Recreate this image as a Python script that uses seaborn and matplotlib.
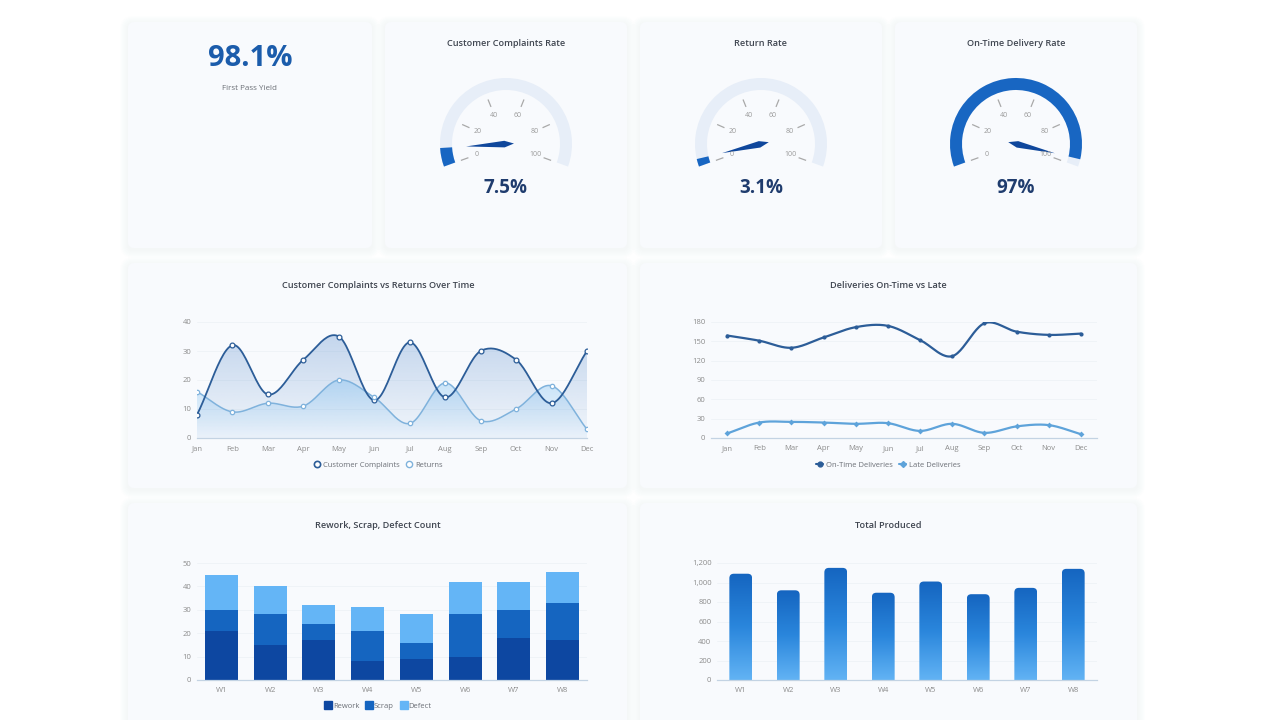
import numpy as np
import seaborn as sns
import matplotlib.pyplot as plt
from matplotlib.patches import FancyBboxPatch, Wedge, Polygon
from matplotlib.lines import Line2D
from matplotlib.colors import LinearSegmentedColormap, to_rgb
from matplotlib.ticker import FuncFormatter

sns.set_theme(style="white")
plt.rcParams['font.family'] = ['Open Sans', 'DejaVu Sans']

# ---- data ----
months = ["Jan", "Feb", "Mar", "Apr", "May", "Jun", "Jul", "Aug", "Sep", "Oct", "Nov", "Dec"]
complaints = [8, 32, 15, 27, 35, 13, 33, 14, 30, 27, 12, 30]
returns = [16, 9, 12, 11, 20, 14, 5, 19, 6, 10, 18, 3]
on_time = [159, 151, 140, 156, 172, 174, 152, 127, 178, 165, 160, 162]
late = [7, 24, 25, 24, 22, 23, 11, 22, 8, 18, 20, 6]

weeks = ["W1", "W2", "W3", "W4", "W5", "W6", "W7", "W8"]
rework = [21, 15, 17, 8, 9, 10, 18, 17]
scrap = [9, 13, 7, 13, 7, 18, 12, 16]
defect = [15, 12, 8, 10, 12, 14, 12, 13]
total_produced = [1090, 920, 1150, 895, 1010, 880, 945, 1140]

first_pass_yield = "98.1%"
gauge_titles = ["Customer Complaints Rate", "Return Rate", "On-Time Delivery Rate"]
gauge_values = [7.5, 3.1, 97]
gauge_labels = ["7.5%", "3.1%", "97%"]

# ---- colours ----
DARK = "#2c5d98"
LIGHT = "#7fb2dc"
REWORK_C = "#0d47a1"
SCRAP_C = "#1565c0"
DEFECT_C = "#64b5f6"
TICK_C = "#8c8c8c"
AXIS_C = "#c3d3e3"
TITLE_C = "#3f4550"

W, H = 1280, 720
fig = plt.figure(figsize=(12.8, 7.2), dpi=100, facecolor="white")


def px_rect(x0, y0, x1, y1):
    return [x0 / W, 1 - y1 / H, (x1 - x0) / W, (y1 - y0) / H]


# background layer in pixel units
bg = fig.add_axes([0, 0, 1, 1], zorder=-5)
bg.set_xlim(0, W)
bg.set_ylim(H, 0)
bg.axis("off")

cards = [(128, 22, 372, 248), (385, 22, 627, 248), (640, 22, 882, 248), (895, 22, 1137, 248),
         (128, 263, 627, 488), (640, 263, 1137, 488),
         (128, 503, 627, 735), (640, 503, 1137, 735)]
for x0, y0, x1, y1 in cards:
    for k in range(8, 0, -1):
        bg.add_patch(FancyBboxPatch((x0 - k, y0 - k + 2), x1 - x0 + 2 * k, y1 - y0 + 2 * k,
                                    boxstyle=f"round,pad=0,rounding_size={6 + k}",
                                    fc="#dde5ef", ec="none", alpha=0.035))
    bg.add_patch(FancyBboxPatch((x0, y0), x1 - x0, y1 - y0,
                                boxstyle="round,pad=0,rounding_size=6",
                                fc="#f8fafd", ec="none"))

# KPI card
bg.text(250, 59, first_pass_yield, ha="center", va="center", fontsize=21,
        fontweight="bold", color="#1b5cab")
bg.text(250, 89, "First Pass Yield", ha="center", va="center", fontsize=5.8, color="#6b6f76")


def draw_gauge(cx, value, title, label):
    ax = fig.add_axes(px_rect(cx - 110, 30, cx + 110, 214))
    ax.set_xlim(-110, 110)
    ax.set_ylim(144 - 214, 144 - 30)
    ax.axis("off")
    start, end = 200, -20
    R, wd = 66, 12
    ax.add_patch(Wedge((0, 0), R, end, start, width=wd, fc="#e7eef8", ec="none"))
    ang = start - (start - end) * value / 100
    ax.add_patch(Wedge((0, 0), R, ang, start, width=wd, fc="#1866c2", ec="none"))
    for v in range(0, 101, 20):
        a = np.radians(start - (start - end) * v / 100)
        ax.plot([40 * np.cos(a), 48 * np.cos(a)], [40 * np.sin(a), 48 * np.sin(a)],
                color="#a9a9a9", lw=0.9, solid_capstyle="butt")
        ax.text(31 * np.cos(a), 31 * np.sin(a), str(v), ha="center", va="center",
                fontsize=5, color="#9a9a9a")
    a = np.radians(ang)
    d = np.array([np.cos(a), np.sin(a)])
    n = np.array([-np.sin(a), np.cos(a)])
    pts = [40 * d, 3.3 * n + 1.5 * d, -8 * d, -3.3 * n + 1.5 * d]
    ax.add_patch(Polygon(pts, closed=True, fc="#0f479c", ec="none"))
    bg.text(cx, 44, title, ha="center", va="center", fontsize=6.6,
            fontweight="semibold", color=TITLE_C)
    bg.text(cx, 188, label, ha="center", va="center", fontsize=13.5,
            fontweight="bold", color="#1f3c6e")


for cx, v, t, lab in zip([506, 761, 1016], gauge_values, gauge_titles, gauge_labels):
    draw_gauge(cx, v, t, lab)


def smooth_curve(xv, yv, n=24):
    x = np.asarray(xv, float)
    y = np.asarray(yv, float)
    px = np.concatenate([[2 * x[0] - x[1]], x, [2 * x[-1] - x[-2]]])
    py = np.concatenate([[2 * y[0] - y[1]], y, [2 * y[-1] - y[-2]]])
    t = np.linspace(0, 1, n, endpoint=False)
    xs, ys = [], []
    for i in range(1, len(px) - 2):
        for arr, out in ((px, xs), (py, ys)):
            p0, p1, p2, p3 = arr[i - 1:i + 3]
            out.append(0.5 * (2 * p1 + (-p0 + p2) * t + (2 * p0 - 5 * p1 + 4 * p2 - p3) * t ** 2
                              + (-p0 + 3 * p1 - 3 * p2 + p3) * t ** 3))
    xs.append([x[-1]])
    ys.append([y[-1]])
    return np.concatenate(xs), np.concatenate(ys)


def gradient_fill(ax, xs, ys, color, a_top, a_bot, z):
    poly = ax.fill_between(xs, ys, 0, facecolor="none", edgecolor="none")
    grad = np.zeros((256, 1, 4))
    grad[..., :3] = to_rgb(color)
    grad[:, 0, 3] = np.linspace(a_bot, a_top, 256)
    img = ax.imshow(grad, extent=[xs.min(), xs.max(), 0, ys.max()], origin="lower",
                    aspect="auto", zorder=z)
    img.set_clip_path(poly.get_paths()[0], ax.transData)


def style_axis(ax):
    ax.patch.set_alpha(0)
    for s in ["top", "right", "left"]:
        ax.spines[s].set_visible(False)
    ax.spines["bottom"].set_color(AXIS_C)
    ax.spines["bottom"].set_linewidth(0.9)
    ax.tick_params(axis="y", length=0, labelsize=5.5, labelcolor=TICK_C, pad=4)
    ax.tick_params(axis="x", labelsize=5.5, labelcolor=TICK_C, color=AXIS_C, pad=3)
    ax.yaxis.grid(True, color="#eef2f6", lw=0.6)
    ax.set_axisbelow(True)
    ax.set_xlabel("")
    ax.set_ylabel("")


# ---- chart 1: complaints vs returns ----
ax1 = fig.add_axes(px_rect(197, 322, 587, 438))
idx = np.arange(len(months))
cx_, cy_ = smooth_curve(idx, complaints)
rx_, ry_ = smooth_curve(idx, returns)
gradient_fill(ax1, cx_, cy_, "#4a82c8", 0.30, 0.04, 1)
gradient_fill(ax1, rx_, ry_, "#6fb8f0", 0.36, 0.05, 2)
ax1.plot(cx_, cy_, color=DARK, lw=1.3, zorder=4)
ax1.plot(rx_, ry_, color=LIGHT, lw=1.1, zorder=3)
sns.scatterplot(x=idx, y=complaints, ax=ax1, s=12, facecolor="white", edgecolor=DARK,
                linewidth=0.9, zorder=5)
sns.scatterplot(x=idx, y=returns, ax=ax1, s=10, facecolor="white", edgecolor=LIGHT,
                linewidth=0.9, zorder=5)
ax1.set_xlim(0, 11)
ax1.set_ylim(0, 40)
ax1.set_yticks(range(0, 41, 10))
ax1.set_xticks(idx, months)
style_axis(ax1)
ax1.tick_params(axis="x", length=2.5, width=0.7)
bg.text(378, 285, "Customer Complaints vs Returns Over Time", ha="center", va="center",
        fontsize=6.6, fontweight="semibold", color=TITLE_C)
fig.legend(handles=[Line2D([], [], ls="none", marker="o", ms=4.5, mfc="white", mec=DARK, mew=1.2),
                    Line2D([], [], ls="none", marker="o", ms=4.5, mfc="white", mec=LIGHT, mew=1.0)],
           labels=["Customer Complaints", "Returns"], loc="center",
           bbox_to_anchor=(378 / W, 1 - 465 / H), ncol=2, frameon=False, fontsize=5.5,
           labelcolor="#6b6f76", handletextpad=0.2, columnspacing=0.8, handlelength=1.0)

# ---- chart 2: deliveries ----
ax2 = fig.add_axes(px_rect(711, 322, 1097, 438))
ox_, oy_ = smooth_curve(idx, on_time)
lx_, ly_ = smooth_curve(idx, late)
ax2.plot(ox_, oy_, color=DARK, lw=1.6, zorder=3)
ax2.plot(lx_, ly_, color="#5ea3da", lw=1.6, zorder=3)
sns.scatterplot(x=idx, y=on_time, ax=ax2, s=9, color=DARK, linewidth=0, zorder=4)
sns.scatterplot(x=idx, y=late, ax=ax2, s=9, marker="D", color="#5ea3da", linewidth=0, zorder=4)
ax2.set_xlim(-0.5, 11.5)
ax2.set_ylim(0, 180)
ax2.set_yticks(range(0, 181, 30))
ax2.set_xticks(idx, months)
style_axis(ax2)
ax2.set_xticks(np.arange(-0.5, 12, 1), minor=True)
ax2.tick_params(axis="x", which="major", length=0, pad=5)
ax2.tick_params(axis="x", which="minor", length=2.5, width=0.7, color=AXIS_C)
bg.text(888, 285, "Deliveries On-Time vs Late", ha="center", va="center",
        fontsize=6.6, fontweight="semibold", color=TITLE_C)
fig.legend(handles=[Line2D([0, 1], [0, 0], color=DARK, lw=1.5, marker="o", ms=3.5),
                    Line2D([0, 1], [0, 0], color="#5ea3da", lw=1.5, marker="D", ms=3)],
           labels=["On-Time Deliveries", "Late Deliveries"], loc="center",
           bbox_to_anchor=(888 / W, 1 - 465 / H), ncol=2, frameon=False, fontsize=5.5,
           labelcolor="#6b6f76", handletextpad=0.3, columnspacing=0.8, handlelength=1.0)

# ---- chart 3: stacked rework / scrap / defect ----
ax3 = fig.add_axes(px_rect(197, 563, 587, 680))
rw = np.array(rework)
sc = np.array(scrap)
df = np.array(defect)
sns.barplot(x=weeks, y=rw + sc + df, color=DEFECT_C, width=0.68, saturation=1,
            errorbar=None, linewidth=0, ax=ax3)
sns.barplot(x=weeks, y=rw + sc, color=SCRAP_C, width=0.68, saturation=1,
            errorbar=None, linewidth=0, ax=ax3)
sns.barplot(x=weeks, y=rw, color=REWORK_C, width=0.68, saturation=1,
            errorbar=None, linewidth=0, ax=ax3)
ax3.set_xlim(-0.5, 7.5)
ax3.set_ylim(0, 50)
ax3.set_yticks(range(0, 51, 10))
style_axis(ax3)
ax3.set_xticks(np.arange(-0.5, 8, 1), minor=True)
ax3.tick_params(axis="x", which="major", length=0, pad=5)
ax3.tick_params(axis="x", which="minor", length=2.5, width=0.7, color=AXIS_C)
bg.text(378, 526, "Rework, Scrap, Defect Count", ha="center", va="center",
        fontsize=6.6, fontweight="semibold", color=TITLE_C)
fig.legend(handles=[Line2D([], [], ls="none", marker="s", ms=5.5, color=c)
                    for c in (REWORK_C, SCRAP_C, DEFECT_C)],
           labels=["Rework", "Scrap", "Defect"], loc="center",
           bbox_to_anchor=(378 / W, 1 - 706 / H), ncol=3, frameon=False, fontsize=5.5,
           labelcolor="#6b6f76", handletextpad=0.1, columnspacing=0.8, handlelength=1.0)

# ---- chart 4: total produced (gradient, rounded tops) ----
ax4 = fig.add_axes(px_rect(717, 563, 1097, 680))
sns.barplot(x=weeks, y=total_produced, color=SCRAP_C, width=0.48, saturation=1,
            errorbar=None, linewidth=0, ax=ax4)
ax4.set_xlim(-0.5, 7.5)
ax4.set_ylim(0, 1200)
ppx = (1097 - 717) / 8.0
ppy = (680 - 563) / 1200.0
cmap = LinearSegmentedColormap.from_list("prod", ["#62b3f4", "#2a86dc", "#1565c0"])
for bar in list(ax4.patches):
    x0, w, h = bar.get_x(), bar.get_width(), bar.get_height()
    bar.set_visible(False)
    shape = FancyBboxPatch((x0, -80), w, h + 80,
                           boxstyle=f"round,pad=0,rounding_size={4.5 / ppx}",
                           mutation_aspect=ppx / ppy, fc="none", ec="none")
    ax4.add_patch(shape)
    img = ax4.imshow(np.linspace(0, 1, 256).reshape(-1, 1), cmap=cmap,
                     extent=[x0, x0 + w, 0, h], origin="lower", aspect="auto", zorder=2)
    img.set_clip_path(shape)
ax4.set_aspect("auto")
ax4.set_xlim(-0.5, 7.5)
ax4.set_ylim(0, 1200)
ax4.set_yticks(range(0, 1201, 200))
ax4.yaxis.set_major_formatter(FuncFormatter(lambda v, p: f"{int(v):,}"))
style_axis(ax4)
ax4.set_xticks(range(8), weeks)
ax4.set_xticks(np.arange(-0.5, 8, 1), minor=True)
ax4.tick_params(axis="x", which="major", length=0, pad=5)
ax4.tick_params(axis="x", which="minor", length=2.5, width=0.7, color=AXIS_C)
bg.text(888, 526, "Total Produced", ha="center", va="center",
        fontsize=6.6, fontweight="semibold", color=TITLE_C)

fig.savefig("out.png", dpi=100, facecolor="white")
